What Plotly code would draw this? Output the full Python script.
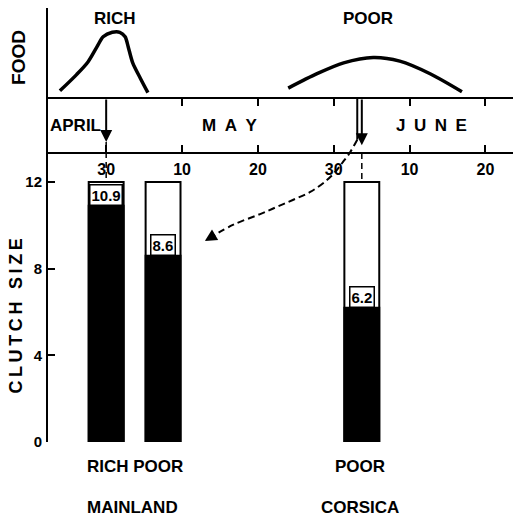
import plotly.graph_objects as go

# ---------------- data ----------------
# food availability (arbitrary units); x = days counted from 30 April
rich_food_day = [-6.1, -3.9, -2.4, -1.2, -0.4, 0.8, 1.8, 2.5, 2.9, 3.5, 4.5, 5.5]
rich_food = [0.8, 2.6, 4.0, 5.7, 6.8, 7.3, 7.3, 6.8, 5.7, 3.9, 2.2, 0.6]
poor_food_day = [24.0, 27.8, 31.3, 35.2, 38.7, 42.7, 46.9]
poor_food = [1.1, 2.7, 3.9, 4.5, 4.1, 2.7, 0.7]

food_labels = ["RICH", "POOR"]
food_label_day = [1.2, 34.5]

# clutch size bars
habitats = ["RICH", "POOR", "POOR"]
regions = ["MAINLAND", "MAINLAND", "CORSICA"]
laying_day = [0, 7.5, 33.7]
clutch = [10.9, 8.6, 6.2]
clutch_max = 12

# dashed curved arrow (Corsica laying date -> mainland poor bar)
shift_day = [33.1, 32.1, 31.2, 30.4, 29.1, 26.9, 24.6, 22.5, 20.3, 16.7, 14.1]
shift_clutch = [13.95, 13.34, 12.92, 12.55, 12.09, 11.54, 11.17, 10.85, 10.52, 10.02, 9.51]
shift_tip = (13.0, 9.28)

date_ticks = [0, 10, 20, 30, 40, 50]
date_labels = ["30", "10", "20", "30", "10", "20"]
clutch_ticks = [0, 4, 8, 12]
months = ["APRIL", "M\u2002A\u2002Y", "J\u2002U\u2002N\u2002E"]
month_mid_day = [-4.0, 16.2, 42.9]

# ---------------- figure ----------------
FONT = "Liberation Sans, Arial, sans-serif"
BLACK = "#000000"

fig = go.Figure()

# food curves
fig.add_trace(go.Scatter(x=rich_food_day, y=rich_food, mode="lines", yaxis="y2",
                         line=dict(color=BLACK, width=3.5, shape="spline", smoothing=0.8),
                         hoverinfo="skip", showlegend=False))
fig.add_trace(go.Scatter(x=poor_food_day, y=poor_food, mode="lines", yaxis="y2",
                         line=dict(color=BLACK, width=3.5, shape="spline", smoothing=0.8),
                         hoverinfo="skip", showlegend=False))

# bars: white frame up to max, black fill up to clutch size
bar_w = 4.6
fig.add_trace(go.Bar(x=laying_day, y=[clutch_max] * len(clutch), width=bar_w,
                     marker=dict(color="white", line=dict(color=BLACK, width=2)),
                     hoverinfo="skip", showlegend=False))
fig.add_trace(go.Bar(x=laying_day, y=clutch, width=bar_w,
                     marker=dict(color=BLACK, line=dict(color=BLACK, width=2)),
                     hoverinfo="skip", showlegend=False))

# dashed curved shift arrow
fig.add_trace(go.Scatter(x=shift_day, y=shift_clutch, mode="lines",
                         line=dict(color=BLACK, width=2, dash="7px,4px", shape="spline"),
                         hoverinfo="skip", showlegend=False))

y_food_base = 15.88   # food baseline level on clutch scale
y_date_axis = 13.34   # date axis level on clutch scale

annotations = []
shapes = []

# left frame line spanning the whole figure height
shapes.append(dict(type="line", xref="paper", yref="paper", x0=0, x1=0, y0=0, y1=1,
                   line=dict(color=BLACK, width=2)))

# laying-date arrows from food baseline
rich_x, cors_x = laying_day[0], laying_day[2]
for xd, tip in [(rich_x, 13.85), (cors_x, 13.69)]:
    annotations.append(dict(x=xd, y=tip, ax=xd, ay=y_food_base, xref="x", yref="y",
                            axref="x", ayref="y", text="", showarrow=True,
                            arrowhead=2, arrowsize=1.2, arrowwidth=2, arrowcolor=BLACK))
# second line of Corsica double arrow
shapes.append(dict(type="line", xref="x", yref="y", x0=shift_day[0], x1=shift_day[0],
                   y0=y_food_base, y1=shift_clutch[0], line=dict(color=BLACK, width=2)))
# dashed drop lines to bar tops
shapes.append(dict(type="line", xref="x", yref="y", x0=rich_x, x1=rich_x,
                   y0=13.85, y1=clutch_max, line=dict(color=BLACK, width=1.5, dash="6px,4px")))
shapes.append(dict(type="line", xref="x", yref="y", x0=cors_x, x1=cors_x,
                   y0=y_date_axis, y1=clutch_max, line=dict(color=BLACK, width=1.5, dash="6px,4px")))

# curved arrow head
annotations.append(dict(x=shift_tip[0], y=shift_tip[1], ax=shift_day[-1], ay=shift_clutch[-1],
                        xref="x", yref="y", axref="x", ayref="y", text="", showarrow=True,
                        arrowhead=2, arrowsize=1.2, arrowwidth=2, arrowcolor=BLACK))

# bar value labels
for xd, v in zip(laying_day, clutch):
    annotations.append(dict(x=xd, y=v, xref="x", yref="y", xanchor="center", yanchor="bottom",
                            text=f"{v}", showarrow=False, bgcolor="white", bordercolor=BLACK,
                            borderwidth=1.5, borderpad=1,
                            font=dict(family=FONT, size=15, color=BLACK, weight="bold")))


def label(text, x, y, size, xref="x", angle=0, weight="bold"):
    annotations.append(dict(x=x, y=y, xref=xref, yref="paper", text=text, showarrow=False,
                            xanchor="center", yanchor="middle", textangle=angle,
                            font=dict(family=FONT, size=size, color=BLACK, weight=weight)))


# food labels
for t, xd in zip(food_labels, food_label_day):
    label(t, xd, 0.975, 17)

# month labels
for t, xd in zip(months, month_mid_day):
    label(t, xd, 0.730, 17)

# group labels under bars
mid_main = (laying_day[0] + laying_day[1]) / 2
label(f"{habitats[0]} {habitats[1]}", mid_main, -0.0576, 17)
label(regions[0], mid_main - 0.3, -0.1498, 17)
label(habitats[2], laying_day[2] - 0.3, -0.0576, 17)
label(regions[2], laying_day[2] - 0.3, -0.1498, 17)

# axis titles
label("FOOD", -0.060, 0.885, 19, xref="paper", angle=-90)
label("C\u2009L\u2009U\u2009T\u2009C\u2009H\u2002\u2009S\u2009I\u2009Z\u2009E", -0.0655, 0.290, 18,
      xref="paper", angle=-90)

fig.update_layout(
    template="none",
    width=513, height=518,
    margin=dict(l=47, r=0, t=8, b=76, autoexpand=False),
    paper_bgcolor="white", plot_bgcolor="white",
    barmode="overlay", showlegend=False,
    xaxis=dict(range=[-7.80, 53.63], anchor="free", position=0.6659, automargin=False,
               showline=True, linecolor=BLACK, linewidth=2,
               ticks="inside", ticklen=7, tickwidth=2, tickcolor=BLACK,
               tickvals=date_ticks, ticktext=date_labels, ticklabelstandoff=2,
               tickfont=dict(family=FONT, size=16, color=BLACK, weight="bold"),
               showgrid=False, zeroline=False),
    xaxis2=dict(overlaying="x", matches="x", anchor="free", position=0.7926, side="top",
                automargin=False,
                showline=True, linecolor=BLACK, linewidth=2,
                ticks="inside", ticklen=7, tickwidth=2, tickcolor=BLACK,
                tickvals=date_ticks[1:], showticklabels=False,
                showgrid=False, zeroline=False),
    yaxis=dict(range=[0, 20.03], anchor="free", position=0, automargin=False,
               showline=False,
               ticks="inside", ticklen=7, tickwidth=2, tickcolor=BLACK,
               tickvals=clutch_ticks, ticklabelstandoff=5,
               tickfont=dict(family=FONT, size=15, color=BLACK, weight="bold"),
               showgrid=False, zeroline=False),
    yaxis2=dict(overlaying="y", range=[-38.22, 10], visible=False),
    annotations=annotations,
    shapes=shapes,
)

# dummy trace so xaxis2 is drawn
fig.add_trace(go.Scatter(x=[None], y=[None], xaxis="x2", showlegend=False, hoverinfo="skip"))

fig.write_html("out.html", config={"displayModeBar": False},
               post_script="document.body.style.margin='0';")
